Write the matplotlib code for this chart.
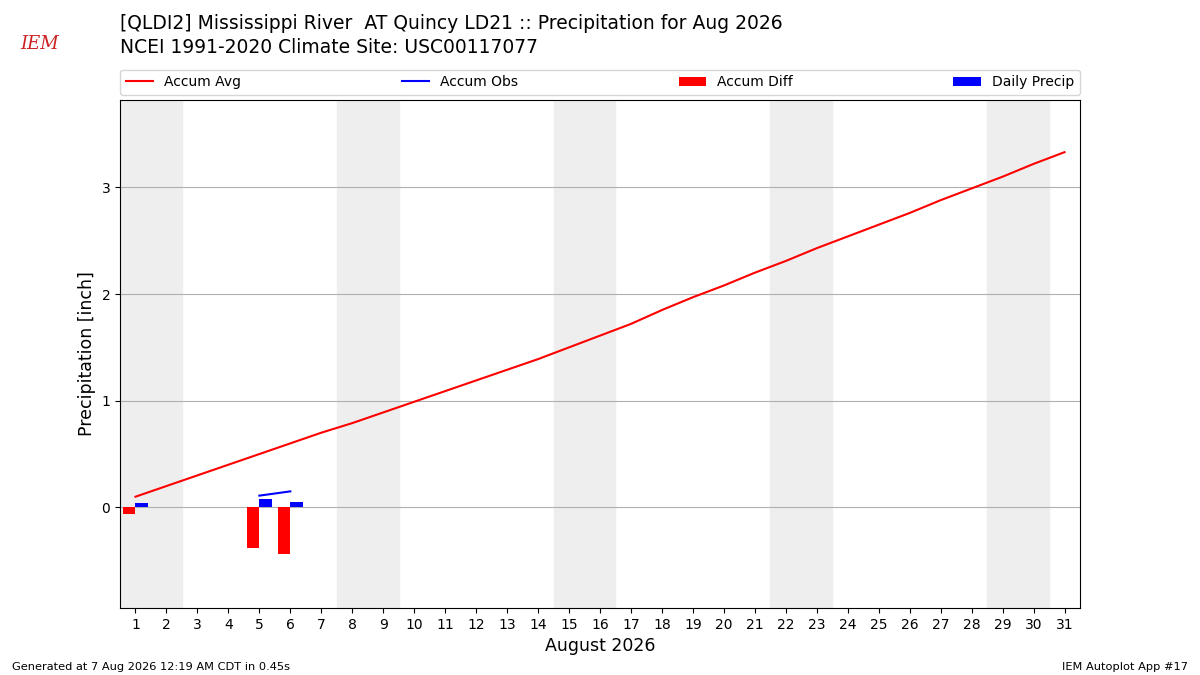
import matplotlib
matplotlib.use("Agg")
import matplotlib.pyplot as plt
import numpy as np

days = list(range(1, 32))
accum_avg = [0.10, 0.20, 0.30, 0.40, 0.50, 0.60, 0.70, 0.79, 0.89, 0.99,
             1.09, 1.19, 1.29, 1.39, 1.50, 1.61, 1.72, 1.85, 1.97, 2.08,
             2.20, 2.31, 2.43, 2.54, 2.65, 2.76, 2.88, 2.99, 3.10, 3.22, 3.33]
obs_days = [1, 2, 3, 4, 5, 6]
accum_obs = [0.04, np.nan, np.nan, np.nan, 0.11, 0.15]
accum_diff = [-0.06, np.nan, np.nan, np.nan, -0.38, -0.44]
daily_precip = [0.04, np.nan, np.nan, np.nan, 0.075, 0.05]
weekends = [1, 8, 15, 22, 29]

fig = plt.figure(figsize=(12, 6.75), dpi=100)
ax = fig.add_axes([0.1, 0.099, 0.8, 0.753])

for d in weekends:
    ax.axvspan(d - 0.5, d + 1.5, color="#eeeeee", zorder=0)

ax.plot(days, accum_avg, color="r", label="Accum Avg", zorder=3)
ax.plot(obs_days, accum_obs, color="b", label="Accum Obs", zorder=3)
ax.bar(obs_days, accum_diff, width=-0.4, align="edge", color="r", label="Accum Diff", zorder=2)
ax.bar(obs_days, daily_precip, width=0.4, align="edge", color="b", label="Daily Precip", zorder=2)

ax.set_xlim(0.5, 31.5)
ax.set_ylim(-0.945, 3.82)
ax.set_xticks(days)
ax.set_yticks([0, 1, 2, 3])
ax.grid(axis="y", color="#b0b0b0")
ax.set_axisbelow(True)
ax.set_xlabel("August 2026", fontsize=12.5)
ax.set_ylabel("Precipitation [inch]", fontsize=12.5)

ax.legend(loc="lower left", bbox_to_anchor=(0, 1.01, 1, 0.05), ncol=4,
          mode="expand", borderaxespad=0, fontsize=10)

fig.text(0.1, 0.965, "[QLDI2] Mississippi River  AT Quincy LD21 :: Precipitation for Aug 2026",
         fontsize=13.5, va="center")
fig.text(0.1, 0.93, "NCEI 1991-2020 Climate Site: USC00117077", fontsize=13.5, va="center")

fig.text(0.01, 0.008, "Generated at 7 Aug 2026 12:19 AM CDT in 0.45s", fontsize=8.2)
fig.text(0.99, 0.008, "IEM Autoplot App #17", fontsize=8.2, ha="right")

# rough stand-in for the IEM logo
fig.text(0.033, 0.935, "IEM", fontsize=13, color="#cc2222", style="italic",
         family="DejaVu Serif", ha="center", va="center")

fig.savefig("out.png", dpi=100)
